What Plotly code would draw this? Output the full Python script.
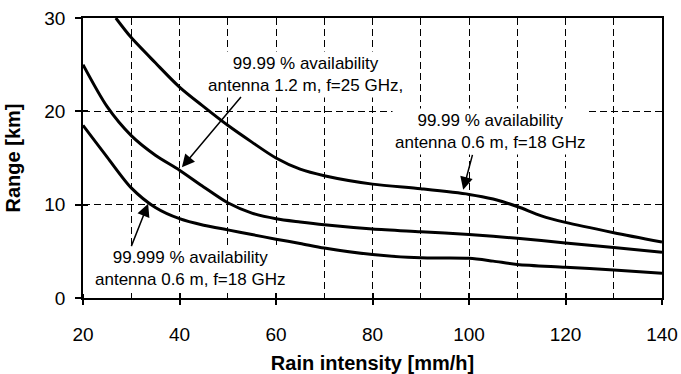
import plotly.graph_objects as go

# Rain intensity [mm/h] and range [km] for each curve
x_top = [26.8, 30, 35, 40, 45, 50, 55, 60, 65, 70, 80, 90, 100, 105, 110, 115, 120, 130, 140]
y_top = [30.0, 27.9, 25.2, 22.6, 20.5, 18.5, 16.7, 15.0, 13.8, 13.1, 12.2, 11.7, 11.1, 10.6, 9.8, 8.8, 8.1, 7.0, 6.0]

x_mid = [20, 25, 30, 35, 40, 45, 50, 55, 60, 65, 70, 80, 90, 100, 110, 120, 130, 140]
y_mid = [25.0, 20.5, 17.4, 15.3, 13.7, 11.9, 10.2, 9.1, 8.5, 8.15, 7.85, 7.4, 7.1, 6.8, 6.4, 5.9, 5.4, 4.9]

x_bot = [20, 25, 30, 35, 40, 45, 50, 55, 60, 65, 70, 80, 90, 100, 105, 110, 120, 130, 140]
y_bot = [18.5, 15.1, 11.8, 9.7, 8.5, 7.8, 7.3, 6.8, 6.3, 5.85, 5.35, 4.65, 4.3, 4.25, 3.95, 3.6, 3.3, 3.0, 2.65]

labels = [
    "99.99 % availability<br>antenna 1.2 m, f=25 GHz,",
    "99.99 % availability<br>antenna 0.6 m, f=18 GHz",
    "99.999 % availability<br>antenna 0.6 m, f=18 GHz",
]
label_pos = [(66.2, 24.0), (104.4, 17.8), (42.2, 3.2)]
arrow_tail = [(53.0, 21.7), (100.8, 15.5), (29.9, 5.4)]
arrow_tip = [(40.5, 14.0), (98.8, 11.6), (33.5, 10.1)]

fig = go.Figure()
line = dict(color="black", width=3, shape="spline", smoothing=0.8)
for xs, ys in [(x_top, y_top), (x_mid, y_mid), (x_bot, y_bot)]:
    fig.add_trace(go.Scatter(x=xs, y=ys, mode="lines", line=line,
                             showlegend=False, hoverinfo="skip", cliponaxis=True))
# dummy trace for inside tick overlay axes
fig.add_trace(go.Scatter(x=[None], y=[None], xaxis="x2", yaxis="y2", showlegend=False))

font = "Liberation Sans, Arial, sans-serif"
grid = dict(showgrid=True, gridcolor="black", gridwidth=1, griddash="7px,4px")

for (tx, ty), txt in zip(label_pos, labels):
    fig.add_annotation(x=tx, y=ty, xref="x", yref="y", text=txt, showarrow=False,
                       font=dict(family=font, size=17, color="black"),
                       bgcolor="white", borderpad=2, align="center")
for (ax, ay), (hx, hy) in zip(arrow_tail, arrow_tip):
    fig.add_annotation(x=hx, y=hy, ax=ax, ay=ay, xref="x", yref="y",
                       axref="x", ayref="y", text="", showarrow=True,
                       arrowhead=2, arrowsize=1.7, arrowwidth=1.5,
                       arrowcolor="black", standoff=0, startstandoff=0)

fig.update_layout(
    template="none",
    width=681, height=374,
    margin=dict(l=83, r=19, t=18, b=76, autoexpand=False),
    paper_bgcolor="white", plot_bgcolor="white",
    font=dict(family=font, color="black"),
    xaxis=dict(range=[20, 140], dtick=20, tick0=20, automargin=False,
               showline=True, linecolor="black", linewidth=1.5, mirror=True,
               ticks="outside", ticklen=5, tickwidth=1.5, tickcolor="black",
               tickfont=dict(size=19), ticklabelstandoff=13,
               title=dict(text="<b>Rain intensity [mm/h]</b>", font=dict(size=20), standoff=12),
               zeroline=False,
               minor=dict(dtick=10, tick0=20, showgrid=True, gridcolor="black",
                          gridwidth=1, griddash="7px,4px", ticks="inside",
                          ticklen=4, tickwidth=1, tickcolor="black"),
               **grid),
    yaxis=dict(range=[0, 30], dtick=10, tick0=0, automargin=False,
               showline=True, linecolor="black", linewidth=1.5, mirror=True,
               ticks="outside", ticklen=6, tickwidth=1.5, tickcolor="black",
               tickfont=dict(size=19), ticklabelstandoff=6,
               title=dict(text="<b>Range [km]</b>", font=dict(size=20), standoff=18),
               zeroline=False, **grid),
    xaxis2=dict(overlaying="x", matches="x", range=[20, 140], dtick=20, tick0=20,
                ticks="inside", ticklen=5, tickwidth=1.5, tickcolor="black", automargin=False,
                showticklabels=False, showgrid=False, showline=False, zeroline=False),
    yaxis2=dict(overlaying="y", matches="y", range=[0, 30], dtick=10, tick0=0,
                ticks="inside", ticklen=5, tickwidth=1.5, tickcolor="black", automargin=False,
                showticklabels=False, showgrid=False, showline=False, zeroline=False),
)

fig.write_html("out.html")
